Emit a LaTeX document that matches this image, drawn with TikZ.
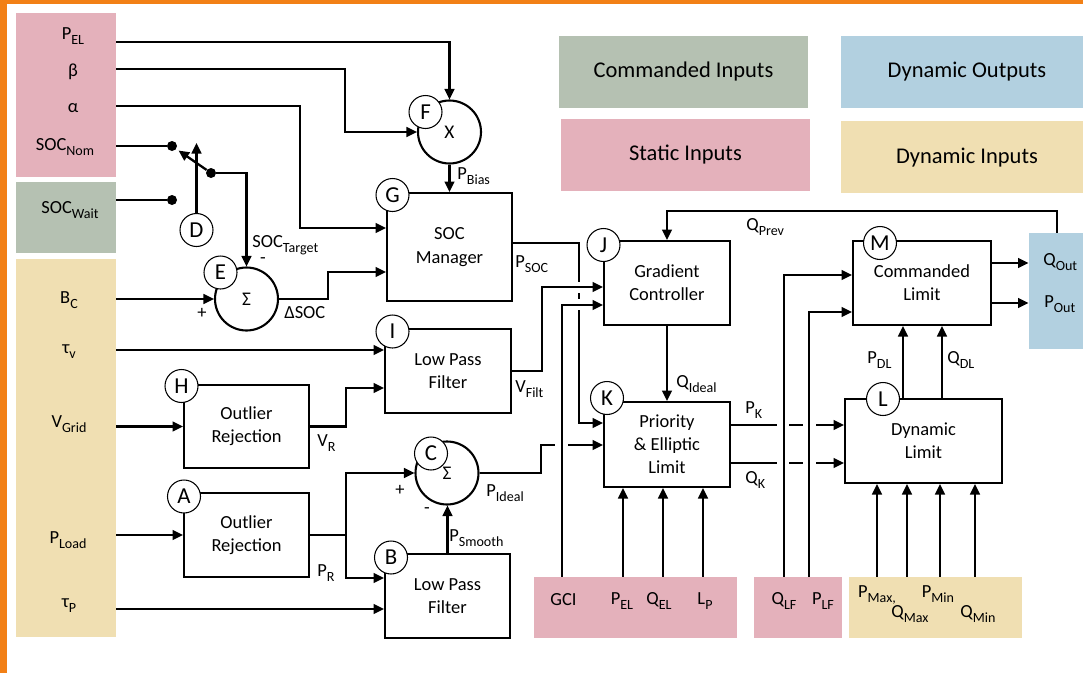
\documentclass[tikz,border=0pt]{standalone}
\usepackage{fontspec}
\setmainfont{Carlito}
\usepackage{tikz}
\usetikzlibrary{arrows.meta,calc,fit}
\definecolor{statpink}{RGB}{228,177,187}
\definecolor{cmdgreen}{RGB}{181,193,178}
\definecolor{dyntan}{RGB}{240,223,178}
\definecolor{outblue}{RGB}{178,208,224}
\definecolor{frameorange}{RGB}{242,128,22}
\newcommand{\lo}[1]{\raisebox{-3.2pt}{\fontsize{8}{9}\selectfont #1}}
\tikzset{
  blk/.style = {draw, line width=1.1pt, align=center, inner sep=0pt,
    font=\fontsize{10.5}{13.2}\selectfont},
  sumnode/.style = {draw, circle, line width=1.2pt, minimum size=1.26cm,
    inner sep=0pt, font=\fontsize{11}{12}\selectfont},
  tag/.style = {draw, circle, fill=white, line width=0.6pt, minimum size=0.66cm,
    inner sep=0pt, font=\fontsize{13}{14}\selectfont},
  lbl/.style = {inner sep=0pt, font=\fontsize{10.5}{12}\selectfont},
  legtxt/.style = {inner sep=0pt, font=\fontsize{12.8}{14}\selectfont},
  swdot/.style = {circle, fill, inner sep=0pt, minimum size=0.2cm},
  colbox/.style = {inner sep=0pt, fill=#1},
  wire/.style = {line width=1.3pt},
  arr/.style = {wire, -{Triangle[length=6pt,width=5.5pt]}}
}

\begin{document}
\begin{tikzpicture}[x=0.02cm,y=-0.02cm]
\useasboundingbox (0,0) rectangle (1083,673);
\fill[frameorange] (0,0) rectangle (1083,4);
\fill[frameorange] (0,0) rectangle (7,673);

\node[colbox=statpink, fit={(16,13) (116,177)}] (inStat) {};
\node[colbox=cmdgreen, fit={(16,182) (116,253)}] (inCmd) {};
\node[colbox=dyntan, fit={(16,259) (116,637)}] (inDyn) {};
\node[colbox=cmdgreen, fit={(559,36) (808,108)}] (lgCmd) {};
\node[colbox=statpink, fit={(561,119) (810,191)}] (lgStat) {};
\node[colbox=outblue, fit={(841,36) (1083,108)}] (lgOut) {};
\node[colbox=dyntan, fit={(841,121) (1083,193)}] (lgDyn) {};
\node[colbox=outblue, fit={(1029,233) (1083,349)}] (outD) {};
\node[colbox=statpink, fit={(534,577) (737,638)}] (sK) {};
\node[colbox=statpink, fit={(754,577) (842,638)}] (sM) {};
\node[colbox=dyntan, fit={(849,577) (1022,638)}] (dL) {};

\node[legtxt] at (lgCmd.center) {Commanded Inputs};
\node[legtxt] at (lgStat.center) {Static Inputs};
\node[legtxt] at (967,72) {Dynamic Outputs};
\node[legtxt] at (967,158) {Dynamic Inputs};

\node[lbl, anchor=base] at (73,39) {P\lo{EL}};
\node[lbl, anchor=base] at (73,76) {β};
\node[lbl, anchor=base] at (73,112) {α};
\node[lbl, anchor=base] at (65,150) {SOC\lo{Nom}};
\node[lbl, anchor=base] at (70,213) {SOC\lo{Wait}};
\node[lbl, anchor=base] at (69,303) {B\lo{C}};
\node[lbl, anchor=base] at (69,353) {τ\lo{v}};
\node[lbl, anchor=base] at (69,427) {V\lo{Grid}};
\node[lbl, anchor=base] at (68,543) {P\lo{Load}};
\node[lbl, anchor=base] at (69,607) {τ\lo{P}};

\node[lbl, anchor=base] at (563.5,605) {GCI};
\node[lbl, anchor=base] at (622,604) {P\lo{EL}};
\node[lbl, anchor=base] at (659,604) {Q\lo{EL}};
\node[lbl, anchor=base] at (705,604) {L\lo{P}};
\node[lbl, anchor=base] at (784,604) {Q\lo{LF}};
\node[lbl, anchor=base] at (823,604) {P\lo{LF}};
\node[lbl, anchor=base] at (877,597) {P\lo{Max,}};
\node[lbl, anchor=base] at (910,617) {Q\lo{Max}};
\node[lbl, anchor=base] at (938,597) {P\lo{Min}};
\node[lbl, anchor=base] at (978,617) {Q\lo{Min}};

\node[sumnode] (F) at (449.5,132) {X};
\node[sumnode] (E) at (246.5,299) {Σ};
\node[sumnode] (C) at (447,473) {Σ};
\node[blk, minimum width=2.5cm, minimum height=2.16cm] (G) at (449.5,247) {SOC\\Manager};
\node[blk, minimum width=2.52cm, minimum height=1.68cm] (I) at (448,371) {Low Pass\\Filter};
\node[blk, minimum width=2.5cm, minimum height=1.66cm] (H) at (246.5,426.5) {Outlier\\Rejection};
\node[blk, minimum width=2.5cm, minimum height=1.68cm] (A) at (246.5,535) {Outlier\\Rejection};
\node[blk, minimum width=2.5cm, minimum height=1.68cm] (B) at (447.5,596) {Low Pass\\Filter};
\node[blk, minimum width=2.52cm, minimum height=1.68cm] (J) at (667,283) {Gradient\\Controller};
\node[blk, minimum width=2.52cm, minimum height=1.7cm] (K) at (667,444.5) {Priority\\\& Elliptic\\Limit};
\node[blk, minimum width=2.76cm, minimum height=1.68cm] (M) at (922,283) {Commanded\\Limit};
\node[blk, minimum width=3.14cm, minimum height=1.68cm] (L) at (923.5,441) {Dynamic\\Limit};

\node[swdot] (dN) at (172,146) {};
\node[swdot] (dW) at (172,200) {};
\node[swdot] (dP) at (211,173) {};
\coordinate (dTip) at (196.5,143);
\coordinate (jR) at (346,535);

\draw[arr] (inStat.east |- 0,42) -| (F.north);
\draw[arr] (inStat.east |- 0,69) -| (345,132) -- (F.west);
\draw[arr] (inStat.east |- 0,106) -| (300,228) -- (G.west |- 0,228);
\draw[arr] (F.south) -- (G.north);
\draw[wire] (inStat.east |- dN) -- (dN);
\draw[wire] (inCmd.east |- dW) -- (dW);
\draw[arr, shorten >=1.5pt] (dP) -- (dN);
\draw[arr] (dP) -| (E.north);
\draw[arr] (inDyn.east |- E.west) -- (E.west);
\draw[arr] (E.east) -- (328,299) |- (G.west |- 0,272);

\draw[arr] (inDyn.east |- 0,350) -- (I.west |- 0,350);
\draw[arr] (inDyn.east |- H.west) -- (H.west);
\draw[arr] (H.east) -- (346,426.5) |- (I.west |- 0,388);
\draw[arr] (inDyn.east |- A.west) -- (A.west);
\draw[wire] (A.east) -- (jR);
\draw[arr] (jR) |- (C.west);
\draw[arr] (jR) |- (B.west |- 0,578);
\draw[arr] (inDyn.east |- 0,609) -- (B.west |- 0,609);
\draw[arr] (B.north) -- (B.north |- C.south);

\draw[arr] (I.east) -| (542,287) -- (J.west |- 0,287);
\draw[wire] (G.east |- 0,243) -| (579,282);
\draw[wire] (579,293) -- (579,299);
\draw[arr] (579,310) |- (K.west |- 0,423);
\draw[wire] (C.east) -| (541,445) -- (555,445);
\draw[arr] (568,445) -- (K.west |- 0,445);
\draw[arr] (562,0 |- sK.north) |- (J.west |- 0,305);
\draw[arr] (J.south) -- (K.north);
\foreach \x in {623,663,703}
  \draw[arr] (\x,0 |- sK.north) -- (\x,0 |- K.south);

\foreach \y in {425,463}{
  \draw[wire] (K.east |- 0,\y) -- (777,\y);
  \draw[wire] (789,\y) -- (803,\y);
  \draw[arr] (816,\y) -- (L.west |- 0,\y);
}
\draw[arr] (784,0 |- sM.north) |- (M.west |- 0,275);
\draw[arr] (809,0 |- sM.north) |- (M.west |- 0,312);
\foreach \x in {903,942}
  \draw[arr] (\x,0 |- L.north) -- (\x,0 |- M.south);
\foreach \x in {877,907,940,975}
  \draw[arr] (\x,0 |- dL.north) -- (\x,0 |- L.south);
\draw[arr] (M.east |- 0,263) -- (outD.west |- 0,263);
\draw[arr] (M.east |- 0,303) -- (outD.west |- 0,303);
\draw[arr] (1057,0 |- outD.north) |- (J.north |- 0,211) -- (J.north);

\node[tag] (tF) at (425.5,112) {F};
\node[tag] (tG) at (392.5,195) {G};
\node[tag] (tD) at (196.5,230) {D};
\node[tag] (tE) at (220.5,272.5) {E};
\node[tag] (tH) at (181.5,386) {H};
\node[tag] (tA) at (184,496.5) {A};
\node[tag] (tI) at (392.5,331.5) {I};
\node[tag] (tC) at (431,453.5) {C};
\node[tag] (tB) at (391,557.5) {B};
\node[tag] (tJ) at (603.5,245) {J};
\node[tag] (tK) at (607,398) {K};
\node[tag] (tM) at (880,243) {M};
\node[tag] (tL) at (883,399) {L};
\draw[arr] (tD) -- (dTip);

\node[lbl, anchor=base west] at (457,179) {P\lo{Bias}};
\node[lbl, anchor=base west] at (252,247) {SOC\lo{Target}};
\node[lbl] at (263,261) {-};
\node[lbl] at (202,313) {+};
\node[lbl, anchor=base west] at (284,318) {ΔSOC};
\node[lbl, anchor=base west] at (317,446) {V\lo{R}};
\node[lbl, anchor=base west] at (317,576) {P\lo{R}};
\node[lbl, anchor=base west] at (515,392) {V\lo{Filt}};
\node[lbl, anchor=base west] at (486,496) {P\lo{Ideal}};
\node[lbl] at (400,490) {+};
\node[lbl] at (427,511) {-};
\node[lbl, anchor=base west] at (449,541) {P\lo{Smooth}};
\node[lbl, anchor=base west] at (515,267) {P\lo{SOC}};
\node[lbl, anchor=base west] at (746,230) {Q\lo{Prev}};
\node[lbl, anchor=base west] at (676,387) {Q\lo{Ideal}};
\node[lbl, anchor=base west] at (745,413) {P\lo{K}};
\node[lbl, anchor=base west] at (745,483) {Q\lo{K}};
\node[lbl, anchor=base west] at (867,363) {P\lo{DL}};
\node[lbl, anchor=base west] at (947,363) {Q\lo{DL}};
\node[lbl, anchor=base west] at (1043,265) {Q\lo{Out}};
\node[lbl, anchor=base west] at (1044,307) {P\lo{Out}};
\end{tikzpicture}
\end{document}
